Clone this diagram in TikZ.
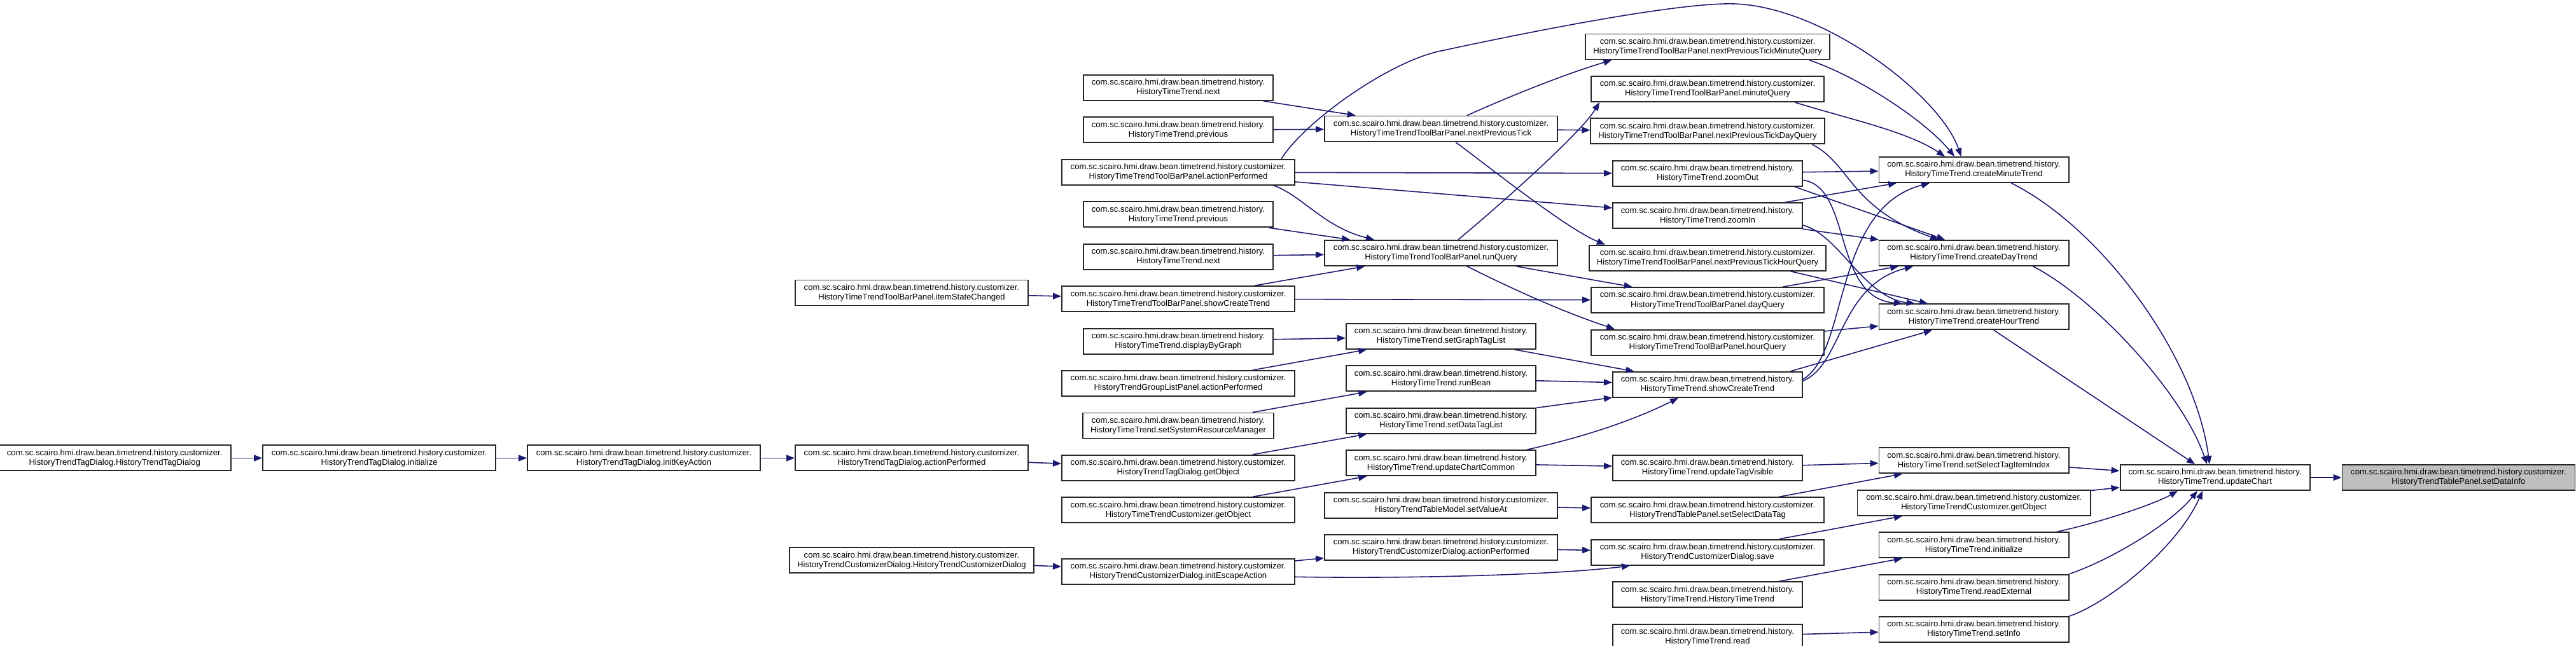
\documentclass[tikz,border=0pt]{standalone}
\usepackage{fontspec}
\setmainfont{Liberation Sans}
\usepackage{tikz}
\usetikzlibrary{arrows.meta,positioning}
\definecolor{edgeblue}{RGB}{25,25,112}
\definecolor{focusgray}{RGB}{191,191,191}

\begin{document}
\begin{tikzpicture}[
    node distance=0.245cm,
    box/.style={rectangle, draw=black!85, fill=white, line width=0.55pt,
                minimum width=3.66cm, minimum height=0.40cm, inner xsep=1.2mm, inner ysep=0.2mm,
                align=center, font={\fontsize{3.73}{4.27}\selectfont}},
    slim/.style={box, minimum width=2.98cm},
    arrow/.style={-{Triangle[length=1.3mm,width=1mm]}, draw=edgeblue, line width=0.45pt}
]
\useasboundingbox (0,0) rectangle (40.49,-10.15);

\node[box, minimum width=3.74cm] (tbTickMin) at (26.84,-0.735) {com.sc.scairo.hmi.draw.bean.timetrend.history.customizer.\\HistoryTimeTrendToolBarPanel.nextPreviousTickMinuteQuery};
\node[box, below=of tbTickMin] (tbMin) {com.sc.scairo.hmi.draw.bean.timetrend.history.customizer.\\HistoryTimeTrendToolBarPanel.minuteQuery};
\node[box, below=of tbMin] (tbTickDay) {com.sc.scairo.hmi.draw.bean.timetrend.history.customizer.\\HistoryTimeTrendToolBarPanel.nextPreviousTickDayQuery};
\node[slim, below=of tbTickDay] (httZoomOut) {com.sc.scairo.hmi.draw.bean.timetrend.history.\\HistoryTimeTrend.zoomOut};
\node[slim, below=of httZoomOut] (httZoomIn) {com.sc.scairo.hmi.draw.bean.timetrend.history.\\HistoryTimeTrend.zoomIn};
\node[box, below=of httZoomIn] (tbTickHour) {com.sc.scairo.hmi.draw.bean.timetrend.history.customizer.\\HistoryTimeTrendToolBarPanel.nextPreviousTickHourQuery};
\node[box, below=of tbTickHour] (tbDay) {com.sc.scairo.hmi.draw.bean.timetrend.history.customizer.\\HistoryTimeTrendToolBarPanel.dayQuery};
\node[box, below=of tbDay] (tbHour) {com.sc.scairo.hmi.draw.bean.timetrend.history.customizer.\\HistoryTimeTrendToolBarPanel.hourQuery};
\node[slim, below=of tbHour] (httShow) {com.sc.scairo.hmi.draw.bean.timetrend.history.\\HistoryTimeTrend.showCreateTrend};
\node[slim, below=0.89cm of httShow] (httTagVis) {com.sc.scairo.hmi.draw.bean.timetrend.history.\\HistoryTimeTrend.updateTagVisible};
\node[box, below=of httTagVis] (tpSelect) {com.sc.scairo.hmi.draw.bean.timetrend.history.customizer.\\HistoryTrendTablePanel.setSelectDataTag};
\node[box, below=of tpSelect] (cdSave) {com.sc.scairo.hmi.draw.bean.timetrend.history.customizer.\\HistoryTrendCustomizerDialog.save};
\node[slim, below=of cdSave] (httCtor) {com.sc.scairo.hmi.draw.bean.timetrend.history.\\HistoryTimeTrend.HistoryTimeTrend};
\node[slim, below=of httCtor] (httRead) {com.sc.scairo.hmi.draw.bean.timetrend.history.\\HistoryTimeTrend.read};

\node[slim] (httNextA) at (18.52,-1.38) {com.sc.scairo.hmi.draw.bean.timetrend.history.\\HistoryTimeTrend.next};
\node[slim, below=of httNextA] (httPrevA) {com.sc.scairo.hmi.draw.bean.timetrend.history.\\HistoryTimeTrend.previous};
\node[box, below=of httPrevA] (tbAction) {com.sc.scairo.hmi.draw.bean.timetrend.history.customizer.\\HistoryTimeTrendToolBarPanel.actionPerformed};
\node[slim, below=of tbAction] (httPrevB) {com.sc.scairo.hmi.draw.bean.timetrend.history.\\HistoryTimeTrend.previous};
\node[slim, below=of httPrevB] (httNextB) {com.sc.scairo.hmi.draw.bean.timetrend.history.\\HistoryTimeTrend.next};
\node[box, below=of httNextB] (tbShow) {com.sc.scairo.hmi.draw.bean.timetrend.history.customizer.\\HistoryTimeTrendToolBarPanel.showCreateTrend};
\node[slim, below=of tbShow] (httDisplay) {com.sc.scairo.hmi.draw.bean.timetrend.history.\\HistoryTimeTrend.displayByGraph};
\node[box, below=of httDisplay] (glAction) {com.sc.scairo.hmi.draw.bean.timetrend.history.customizer.\\HistoryTrendGroupListPanel.actionPerformed};
\node[slim, below=of glAction] (httSetRes) {com.sc.scairo.hmi.draw.bean.timetrend.history.\\HistoryTimeTrend.setSystemResourceManager};
\node[box, below=of httSetRes] (tdGet) {com.sc.scairo.hmi.draw.bean.timetrend.history.customizer.\\HistoryTrendTagDialog.getObject};
\node[box, below=of tdGet] (tcGetA) {com.sc.scairo.hmi.draw.bean.timetrend.history.customizer.\\HistoryTimeTrendCustomizer.getObject};
\node[box, below=0.545cm of tcGetA] (cdEscape) {com.sc.scairo.hmi.draw.bean.timetrend.history.customizer.\\HistoryTrendCustomizerDialog.initEscapeAction};

\node[box] (tbTick) at (22.65,-2.025) {com.sc.scairo.hmi.draw.bean.timetrend.history.customizer.\\HistoryTimeTrendToolBarPanel.nextPreviousTick};
\node[box, below=1.535cm of tbTick] (tbRun) {com.sc.scairo.hmi.draw.bean.timetrend.history.customizer.\\HistoryTimeTrendToolBarPanel.runQuery};
\node[slim, below=0.89cm of tbRun] (httGraph) {com.sc.scairo.hmi.draw.bean.timetrend.history.\\HistoryTimeTrend.setGraphTagList};
\node[slim, below=of httGraph] (httRunBean) {com.sc.scairo.hmi.draw.bean.timetrend.history.\\HistoryTimeTrend.runBean};
\node[slim, below=of httRunBean] (httDataTag) {com.sc.scairo.hmi.draw.bean.timetrend.history.\\HistoryTimeTrend.setDataTagList};
\node[slim, below=of httDataTag] (httCommon) {com.sc.scairo.hmi.draw.bean.timetrend.history.\\HistoryTimeTrend.updateChartCommon};
\node[box, below=of httCommon] (tmSetValue) {com.sc.scairo.hmi.draw.bean.timetrend.history.customizer.\\HistoryTrendTableModel.setValueAt};
\node[box, below=of tmSetValue] (cdAction) {com.sc.scairo.hmi.draw.bean.timetrend.history.customizer.\\HistoryTrendCustomizerDialog.actionPerformed};

\node[slim] (httMinute) at (31.025,-2.67) {com.sc.scairo.hmi.draw.bean.timetrend.history.\\HistoryTimeTrend.createMinuteTrend};
\node[slim, below=0.89cm of httMinute] (httDay) {com.sc.scairo.hmi.draw.bean.timetrend.history.\\HistoryTimeTrend.createDayTrend};
\node[slim, below=0.585cm of httDay] (httHour) {com.sc.scairo.hmi.draw.bean.timetrend.history.\\HistoryTimeTrend.createHourTrend};
\node[slim, below=1.84cm of httHour] (httSelIdx) {com.sc.scairo.hmi.draw.bean.timetrend.history.\\HistoryTimeTrend.setSelectTagItemIndex};
\node[box, below=of httSelIdx] (tcGetB) {com.sc.scairo.hmi.draw.bean.timetrend.history.customizer.\\HistoryTimeTrendCustomizer.getObject};
\node[slim, below=of tcGetB] (httInit) {com.sc.scairo.hmi.draw.bean.timetrend.history.\\HistoryTimeTrend.initialize};
\node[slim, below=of httInit] (httReadExt) {com.sc.scairo.hmi.draw.bean.timetrend.history.\\HistoryTimeTrend.readExternal};
\node[slim, below=of httReadExt] (httSetInfo) {com.sc.scairo.hmi.draw.bean.timetrend.history.\\HistoryTimeTrend.setInfo};

\node[slim] (httUpdate) at (34.815,-7.51) {com.sc.scairo.hmi.draw.bean.timetrend.history.\\HistoryTimeTrend.updateChart};
\node[box, fill=focusgray, right=0.49cm of httUpdate] (tpDataInfo) {com.sc.scairo.hmi.draw.bean.timetrend.history.customizer.\\HistoryTrendTablePanel.setDataInfo};

\node[box] (tbItem) at (14.33,-4.605) {com.sc.scairo.hmi.draw.bean.timetrend.history.customizer.\\HistoryTimeTrendToolBarPanel.itemStateChanged};
\node[box, below=2.18cm of tbItem] (tdAction) {com.sc.scairo.hmi.draw.bean.timetrend.history.customizer.\\HistoryTrendTagDialog.actionPerformed};
\node[box, below=1.19cm of tdAction] (cdCtor) {com.sc.scairo.hmi.draw.bean.timetrend.history.customizer.\\HistoryTrendCustomizerDialog.HistoryTrendCustomizerDialog};
\node[box, left=0.53cm of tdAction] (tdKey) {com.sc.scairo.hmi.draw.bean.timetrend.history.customizer.\\HistoryTrendTagDialog.initKeyAction};
\node[box, left=0.48cm of tdKey] (tdInit) {com.sc.scairo.hmi.draw.bean.timetrend.history.customizer.\\HistoryTrendTagDialog.initialize};
\node[box, left=0.48cm of tdInit] (tdCtor) {com.sc.scairo.hmi.draw.bean.timetrend.history.customizer.\\HistoryTrendTagDialog.HistoryTrendTagDialog};

\draw[arrow] (tdCtor) -- (tdInit);
\draw[arrow] (tdInit) -- (tdKey);
\draw[arrow] (tdKey) -- (tdAction);
\draw[arrow] (tdAction) -- (tdGet);
\draw[arrow] (tbItem) -- (tbShow);
\draw[arrow] (cdCtor) -- (cdEscape);

\draw[arrow] (httNextA) -- (tbTick);
\draw[arrow] (httPrevA) -- (tbTick);
\draw[arrow] ([xshift=-3.4mm]tbAction.south east) .. controls +(0.44,-0.15) and +(-0.8,0.2) .. ([xshift=-10.5mm]tbRun.north);
\draw[arrow] (httPrevB) -- (tbRun);
\draw[arrow] (httNextB) -- (tbRun);
\draw[arrow] (tbShow) -- (tbRun);
\draw[arrow] (httDisplay) -- (httGraph);
\draw[arrow] (glAction) -- (httGraph);
\draw[arrow] (httSetRes) -- (httRunBean);
\draw[arrow] (tdGet) -- (httDataTag);
\draw[arrow] (tcGetA) -- (httCommon);
\draw[arrow] (cdEscape) -- (cdAction);

\draw[arrow] (tbAction) -- (httZoomOut);
\draw[arrow] (tbAction) -- (httZoomIn);
\draw[arrow] (tbShow) -- (tbDay);
\draw[arrow] ([yshift=-0.85mm]cdEscape.east) .. controls +(1.7,-0.03) and +(-1.2,-0.15) .. ([xshift=6.2mm]cdSave.south west);
\draw[arrow] ([xshift=-2.2mm]tbAction.north east) .. controls +(0.37,0.59) and +(-0.8,-0.18) .. ++(2.47,1.69)
    .. controls +(1.2,0.26) and +(-0.98,0) .. ++(4.58,0.75)
    .. controls +(1.42,0) and +(-0.33,0.97) .. ([xshift=-2mm]httMinute.north);

\draw[arrow] ([xshift=4.1mm]tbTick.north) .. controls +(0.6,0.27) and +(-0.8,-0.24) .. ([xshift=4.2mm]tbTickMin.south west);
\draw[arrow] (tbTick) -- (tbTickDay);
\draw[arrow] ([xshift=2.3mm]tbTick.south) .. controls +(0.6,-0.45) and +(-0.6,0.25) .. ([xshift=2.6mm]tbTickHour.north west);
\draw[arrow] ([xshift=2.7mm]tbRun.north) .. controls +(0.6,0.5) and +(-0.3,-0.5) .. ([xshift=1.4mm]tbMin.south west);
\draw[arrow] (tbRun) -- (tbDay);
\draw[arrow] ([xshift=4.1mm]tbRun.south) .. controls +(0.6,-0.3) and +(-0.9,0.3) .. ([xshift=3.8mm]tbHour.north west);
\draw[arrow] (httGraph) -- (httShow);
\draw[arrow] (httRunBean) -- (httShow);
\draw[arrow] (httDataTag) -- (httShow);
\draw[arrow] ([xshift=-1.5mm]httCommon.north east) .. controls +(0.9,0.2) and +(-0.7,-0.35) .. ([xshift=-4.6mm]httShow.south);
\draw[arrow] (httCommon) -- (httTagVis);
\draw[arrow] (tmSetValue) -- (tpSelect);
\draw[arrow] (cdAction) -- (cdSave);

\draw[arrow] ([xshift=-3.3mm]tbTickMin.south east) .. controls +(0.8,-0.27) and +(-0.45,0.55) .. ([xshift=-3.05mm]httMinute.north);
\draw[arrow] ([xshift=-4.7mm]tbMin.south east) .. controls +(0.8,-0.25) and +(-0.6,0.4) .. ([xshift=-4.55mm]httMinute.north);
\draw[arrow] ([xshift=-2mm]tbTickDay.south east) .. controls +(0.6,-0.3) and +(-1.4,0.5) .. ([xshift=-5.55mm]httDay.north);
\draw[arrow] (httZoomOut) -- (httMinute);
\draw[arrow] ([xshift=-1.3mm]httZoomOut.south east) -- ([xshift=-4.55mm]httDay.north);
\draw[arrow] ([yshift=-1.05mm]httZoomOut.east) .. controls +(0.77,-0.1) and +(-1.1,0.09) .. ([xshift=-11.25mm]httHour.north);
\draw[arrow] (httZoomIn) -- (httMinute);
\draw[arrow] (httZoomIn) -- (httDay);
\draw[arrow] ([yshift=-1.5mm]httZoomIn.east) .. controls +(0.57,-0.15) and +(-0.8,0.09) .. ([xshift=-9.25mm]httHour.north);
\draw[arrow] ([xshift=-5.7mm]tbTickHour.south east) -- ([xshift=-7.25mm]httHour.north);
\draw[arrow] (tbDay) -- (httDay);
\draw[arrow] (tbHour) -- (httHour);
\draw[arrow] ([yshift=0.85mm]httShow.east) .. controls +(0.72,0.42) and +(-1.53,-0.40) .. ([xshift=-6.95mm]httMinute.south);
\draw[arrow] ([yshift=0.6mm]httShow.east) .. controls +(0.62,0.25) and +(-1.17,-0.30) .. ([xshift=-9.55mm]httDay.south);
\draw[arrow] ([xshift=-2mm]httShow.north east) -- ([xshift=-6.55mm]httHour.south);
\draw[arrow] (httTagVis) -- (httSelIdx);
\draw[arrow] (tpSelect) -- (httSelIdx);
\draw[arrow] (cdSave) -- (tcGetB);
\draw[arrow] (httCtor) -- (httInit);
\draw[arrow] (httRead) -- (httSetInfo);

\draw[arrow] ([xshift=-9.1mm]httMinute.south east) .. controls +(1.4,-0.7) and +(-0.23,1.73) .. ([xshift=-0.85mm]httUpdate.north);
\draw[arrow] ([xshift=-5.7mm]httDay.south east) .. controls +(0.96,-0.49) and +(-0.39,1.13) .. ([xshift=-1.25mm]httUpdate.north);
\draw[arrow] (httHour) -- (httUpdate);
\draw[arrow] (httSelIdx) -- (httUpdate);
\draw[arrow] (tcGetB) -- (httUpdate);
\draw[arrow] ([xshift=-1.9mm]httInit.north east) .. controls +(0.7,0.15) and +(-0.35,-0.2) .. ([xshift=-5.85mm]httUpdate.south);
\draw[arrow] (httReadExt.north east) .. controls +(0.6,0.2) and +(-0.45,-0.55) .. ([xshift=-2.75mm]httUpdate.south);
\draw[arrow] (httSetInfo.north east) .. controls +(0.6,0.2) and +(-0.4,-0.9) .. ([xshift=-1.95mm]httUpdate.south);
\draw[arrow] (httUpdate) -- (tpDataInfo);
\end{tikzpicture}
\end{document}
